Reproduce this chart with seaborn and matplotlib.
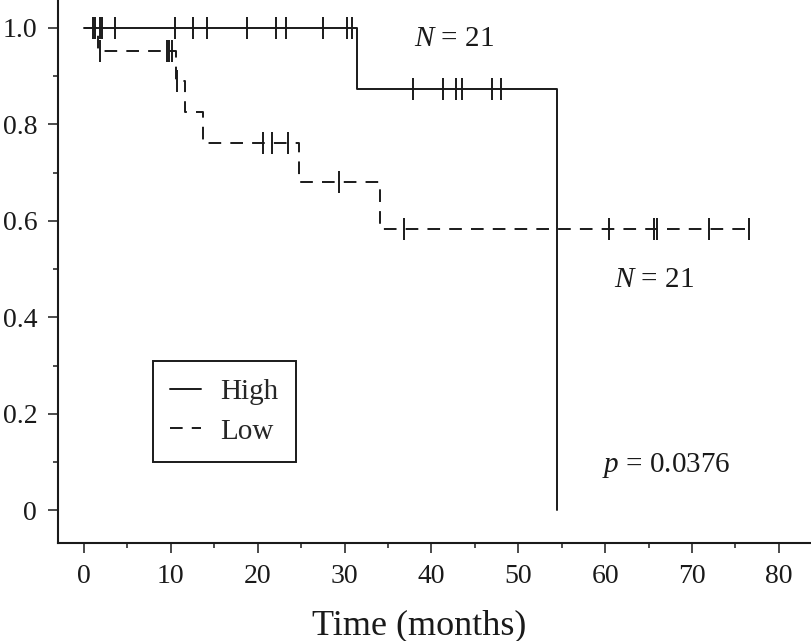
import matplotlib
matplotlib.use("Agg")
import matplotlib.pyplot as plt
import seaborn as sns
import pandas as pd
from matplotlib.lines import Line2D
from matplotlib.ticker import MultipleLocator

# ---- data ----
high_times = [0, 31.4, 54.4]
high_surv = [1.0, 0.873, 0.0]
high_cens_times = [1.0, 1.3, 1.8, 2.1, 3.6, 10.5, 12.6, 14.1, 18.8, 22.1, 23.2, 27.5, 30.3, 30.9,
                   37.9, 41.3, 42.8, 43.5, 47.0, 48.0]
high_cens_surv = [1.0] * 14 + [0.873] * 6

low_times = [0, 1.6, 10.6, 11.6, 13.7, 24.8, 34.1, 76.6]
low_surv = [1.0, 0.952, 0.891, 0.826, 0.762, 0.681, 0.583, 0.583]
low_cens_times = [1.8, 9.5, 9.8, 10.1, 10.7, 20.6, 21.6, 23.5, 29.3,
                  36.8, 60.4, 65.6, 66.0, 72.0, 76.6]
low_cens_surv = [0.952] * 4 + [0.891] + [0.762] * 3 + [0.681] + [0.583] * 6

groups = ["High", "Low"]
x_ticks = [0, 10, 20, 30, 40, 50, 60, 70, 80]
y_ticks = [0, 0.2, 0.4, 0.6, 0.8, 1.0]
y_tick_labels = ["0", "0.2", "0.4", "0.6", "0.8", "1.0"]
x_label = "Time (months)"
n_high, n_low = 21, 21
p_value = "0.0376"

# ---- style ----
sns.set_style("white")
plt.rcParams["font.family"] = ["Liberation Serif", "DejaVu Serif"]
plt.rcParams["mathtext.fontset"] = "custom"
plt.rcParams["mathtext.rm"] = "Liberation Serif"
plt.rcParams["mathtext.it"] = "Liberation Serif:italic"

fig = plt.figure(figsize=(8.11, 6.41), dpi=100)
ax = fig.add_axes([58 / 811, 98 / 641, 753 / 811, 543 / 641])

LW = 1.4
DASH = (0, (6.5, 4.7))
INK = "#1a1a1a"

high_df = pd.DataFrame({"time": high_times, "surv": high_surv})
low_df = pd.DataFrame({"time": low_times, "surv": low_surv})
sns.lineplot(data=high_df, x="time", y="surv", drawstyle="steps-post", color=INK,
             lw=LW, ax=ax, estimator=None)
sns.lineplot(data=low_df, x="time", y="surv", drawstyle="steps-post", color=INK,
             lw=LW, linestyle=DASH, ax=ax, estimator=None)

cens_df = pd.DataFrame({"time": high_cens_times + low_cens_times,
                        "surv": high_cens_surv + low_cens_surv})
sns.scatterplot(data=cens_df, x="time", y="surv", marker="|", s=270, color=INK,
                linewidth=1.4, ax=ax, legend=False, zorder=3)

ax.set_xlim(-3.0, 83.7)
ax.set_ylim(-0.068, 1.058)
ax.set_xticks(x_ticks)
ax.set_yticks(y_ticks)
ax.set_yticklabels(y_tick_labels)
ax.xaxis.set_minor_locator(MultipleLocator(5))
ax.yaxis.set_minor_locator(MultipleLocator(0.1))
ax.tick_params(which="major", direction="out", length=7, width=1.1, colors=INK,
               labelsize=20, pad=8, left=True, bottom=True)
ax.tick_params(which="minor", direction="out", length=3.8, width=1.1, colors=INK,
               left=True, bottom=True)
for s in ["top", "right"]:
    ax.spines[s].set_visible(False)
for s in ["left", "bottom"]:
    ax.spines[s].set_linewidth(1.5)
    ax.spines[s].set_color(INK)

ax.set_xlabel(x_label, fontsize=26, color=INK)
ax.set_ylabel("")
ax.xaxis.set_label_coords(0.48, -0.122)

ax.text(42.6, 0.977, f"$N$ = {n_high}", ha="center", va="center", fontsize=21, color=INK)
ax.text(65.6, 0.477, f"$N$ = {n_low}", ha="center", va="center", fontsize=21, color=INK)
ax.text(67.0, 0.092, f"$p$ = {p_value}", ha="center", va="center", fontsize=21, color=INK)

handles = [Line2D([], [], color=INK, lw=LW),
           Line2D([], [], color=INK, lw=LW, linestyle=DASH)]
leg = ax.legend(handles=handles, labels=groups, loc="lower left",
                bbox_to_anchor=(0.126, 0.149), frameon=True, fancybox=False,
                edgecolor=INK, framealpha=1, fontsize=21, handlelength=1.05,
                handletextpad=0.65, borderpad=0.6, labelspacing=0.45,
                borderaxespad=0)
leg.get_frame().set_linewidth(1.4)

fig.savefig("out.png", dpi=100)
